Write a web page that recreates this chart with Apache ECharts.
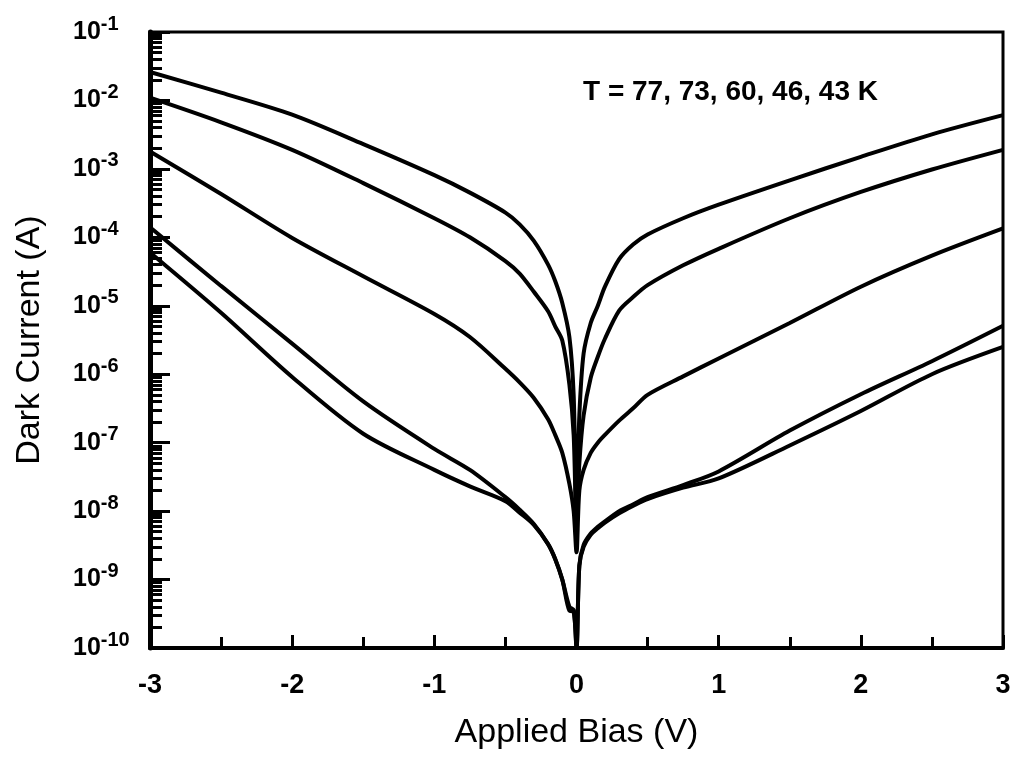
<!DOCTYPE html>
<html>
<head>
<meta charset="utf-8">
<script src="https://cdn.jsdelivr.net/npm/echarts@6/dist/echarts.min.js"></script>
<style>
  html, body { margin: 0; padding: 0; background: #fff; }
  #chart { width: 1018px; height: 764px; }
</style>
</head>
<body>
<div id="chart"></div>
<script>
// applied bias (V), shared by all curves
var bias = [-3, -2.5, -2, -1.5, -1, -0.75, -0.5, -0.4, -0.3, -0.2, -0.15, -0.1, -0.05, -0.02, 0,
            0.02, 0.05, 0.1, 0.15, 0.2, 0.3, 0.4, 0.5, 0.75, 1, 1.5, 2, 2.5, 3];

// dark current (A), one array per temperature
var cur77 = [2.6e-2, 1.3e-2, 6.2e-3, 2.3e-3, 8.1e-4, 4.5e-4, 2.3e-4, 1.55e-4, 8.9e-5, 4.0e-5, 2.3e-5, 1.1e-5, 3.5e-6, 5.0e-7, 1.0e-8,
             2.5e-7, 2.0e-6, 5.6e-6, 1.0e-5, 1.9e-5, 4.8e-5, 7.9e-5, 1.1e-4, 1.9e-4, 3.0e-4, 6.8e-4, 1.5e-3, 3.2e-3, 6.1e-3];
var cur73 = [1.1e-2, 4.8e-3, 1.9e-3, 6.2e-4, 1.9e-4, 1.0e-4, 4.5e-5, 2.95e-5, 1.6e-5, 8.3e-6, 5.0e-6, 3.1e-6, 7.1e-7, 1.3e-7, 6.3e-9,
             5.0e-8, 2.5e-7, 8.9e-7, 1.8e-6, 3.3e-6, 8.5e-6, 1.35e-5, 2.0e-5, 3.9e-5, 6.8e-5, 1.9e-4, 4.6e-4, 9.8e-4, 1.9e-3];
var cur60 = [1.8e-3, 4.3e-4, 9.8e-5, 2.7e-5, 7.6e-6, 3.5e-6, 1.2e-6, 7.6e-7, 4.5e-7, 2.2e-7, 1.3e-7, 7.1e-8, 2.5e-8, 1.0e-8, 2.5e-9,
             2.0e-8, 4.0e-8, 7.1e-8, 1.0e-7, 1.3e-7, 2.1e-7, 3.2e-7, 5.0e-7, 9.3e-7, 1.7e-6, 5.6e-6, 1.9e-5, 5.4e-5, 1.35e-4];
var cur46 = [1.4e-4, 1.95e-5, 2.8e-6, 4.0e-7, 8.1e-8, 4.0e-8, 1.6e-8, 1.05e-8, 6.5e-9, 3.3e-9, 2.0e-9, 1.0e-9, 4.0e-10, 3.6e-10, 1.0e-10,
             1.6e-9, 3.2e-9, 4.7e-9, 5.9e-9, 7.1e-9, 1.0e-8, 1.26e-8, 1.6e-8, 2.4e-8, 3.8e-8, 1.5e-7, 5.1e-7, 1.55e-6, 5.1e-6];
var cur43 = [6.0e-5, 7.9e-6, 9.1e-7, 1.35e-7, 4.0e-8, 2.3e-8, 1.4e-8, 9.5e-9, 6.3e-9, 3.3e-9, 2.0e-9, 1.0e-9, 3.5e-10, 3.4e-10, 1.0e-10,
             1.6e-9, 3.0e-9, 4.5e-9, 5.6e-9, 6.8e-9, 9.3e-9, 1.2e-8, 1.5e-8, 2.2e-8, 3.0e-8, 9.1e-8, 2.9e-7, 1.0e-6, 2.5e-6];

var temps = ['77 K', '73 K', '60 K', '46 K', '43 K'];
var curves = [cur77, cur73, cur60, cur46, cur43];

// minor ticks of the log axis: 2..9 x 10^n
var minorTicks = [];
for (var e = -10; e < -1; e++) {
  for (var m = 2; m <= 9; m++) minorTicks.push(m * Math.pow(10, e));
}

var font = '"Liberation Sans", Arial, Helvetica, sans-serif';

var myChart = echarts.init(document.getElementById('chart'));

var series = curves.map(function (arr, k) {
  return {
    name: temps[k],
    type: 'line',
    showSymbol: false,
    smooth: 0.3,
    clip: true,
    lineStyle: { color: '#000', width: 4 },
    data: bias.map(function (v, i) { return [v, arr[i]]; })
  };
});

myChart.setOption({
  animation: false,
  grid: {
    left: 150, right: 15, top: 32, bottom: 116,
    show: true, borderColor: '#000', borderWidth: 3
  },
  xAxis: {
    type: 'value',
    min: -3, max: 3, interval: 1,
    name: 'Applied Bias (V)',
    nameLocation: 'middle',
    nameGap: 68,
    nameTextStyle: { fontSize: 34, color: '#000', fontFamily: font },
    axisLine: { onZero: false, lineStyle: { color: '#000', width: 4 } },
    axisTick: { inside: true, length: 13, lineStyle: { color: '#000', width: 3 } },
    minorTick: { show: true, splitNumber: 2, length: 11, lineStyle: { color: '#000', width: 3 } },
    splitLine: { show: false },
    axisLabel: { margin: 24, fontSize: 27, fontWeight: 'bold', color: '#000', fontFamily: font }
  },
  yAxis: [{
    type: 'log',
    logBase: 10,
    min: 1e-10, max: 1e-1,
    interval: 1,
    name: 'Dark Current (A)',
    nameLocation: 'middle',
    nameGap: 103,
    nameTextStyle: { fontSize: 34, color: '#000', fontFamily: font },
    axisLine: { onZero: false, lineStyle: { color: '#000', width: 5 } },
    axisTick: { inside: true, length: 20, lineStyle: { color: '#000', width: 3 } },
    splitLine: { show: false },
    axisLabel: {
      align: 'left',
      margin: 77,
      formatter: function (v) {
        var ex = Math.round(Math.log10(v));
        return '{b|10}{s|' + ex + '}';
      },
      rich: {
        b: { fontSize: 25, fontWeight: 'bold', color: '#000', fontFamily: font },
        s: { fontSize: 20, fontWeight: 'bold', color: '#000', fontFamily: font, padding: [0, 0, 16, 0] }
      }
    }
  }, {
    type: 'log',
    logBase: 10,
    min: 1e-10, max: 1e-1,
    position: 'left',
    axisLine: { show: false, onZero: false },
    axisLabel: { show: false },
    splitLine: { show: false },
    axisTick: { show: true, inside: true, length: 12, customValues: minorTicks,
                lineStyle: { color: '#000', width: 3 } }
  }],
  graphic: [{
    type: 'text',
    left: 583,
    top: 78,
    style: {
      text: 'T = 77, 73, 60, 46, 43 K',
      fontSize: 28,
      fontWeight: 'bold',
      fill: '#000',
      fontFamily: font
    }
  }],
  series: series
});
</script>
</body>
</html>
